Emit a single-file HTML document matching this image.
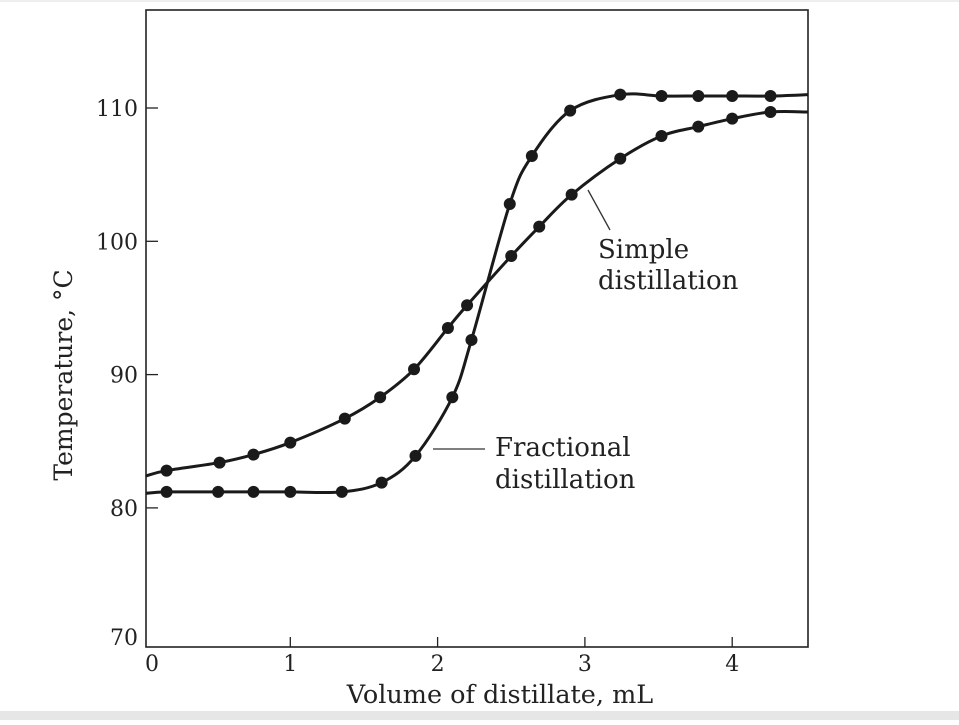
<!DOCTYPE html>
<html><head><meta charset="utf-8"><style>
body{margin:0;background:#fff;}
svg text{font-family:"DejaVu Serif","Liberation Serif",serif;fill:#222;}
</style></head><body>
<svg width="959" height="720" id="c">
<rect x="0" y="711" width="959" height="9" fill="#e6e6e6"/>
<rect x="0" y="0" width="959" height="2" fill="#eee"/>
<g id="axes"></g><g id="marks"></g>
<text x="598" y="258" font-size="26">Simple</text>
<text x="598" y="289" font-size="26">distillation</text>
<line x1="588" y1="190" x2="610" y2="230" stroke="#333" stroke-width="1.3"/>
<text x="495" y="456" font-size="26">Fractional</text>
<text x="495" y="488" font-size="26">distillation</text>
<line x1="433" y1="449" x2="485" y2="449" stroke="#333" stroke-width="1.3"/>
<text x="500" y="703" font-size="25.5" text-anchor="middle">Volume of distillate, mL</text>
<text transform="translate(72,375) rotate(-90)" font-size="25" text-anchor="middle">Temperature, °C</text>
</svg>
<script>
const xTicks=[0,1,2,3,4];
const yTicks=[70,80,90,100,110];
const fracX=[0.16,0.51,0.75,1.0,1.35,1.62,1.85,2.10,2.23,2.49,2.64,2.90,3.24,3.52,3.77,4.0,4.26];
const fracY=[81.2,81.2,81.2,81.2,81.2,81.9,83.9,88.3,92.6,102.8,106.4,109.8,111.0,110.9,110.9,110.9,110.9];
const simpX=[0.16,0.52,0.75,1.0,1.37,1.61,1.84,2.07,2.20,2.50,2.69,2.91,3.24,3.52,3.77,4.0,4.26];
const simpY=[82.8,83.4,84.0,84.9,86.7,88.3,90.4,93.5,95.2,98.9,101.1,103.5,106.2,107.9,108.6,109.2,109.7];
const L=146,R=808,T=10,B=647;
const x=v=>143+147.3*v, y=v=>108+(110-v)*13.33;
const NS='http://www.w3.org/2000/svg';
const ax=document.getElementById('axes'), mk=document.getElementById('marks');
function el(t,a,p){const e=document.createElementNS(NS,t);for(const k in a)e.setAttribute(k,a[k]);p.appendChild(e);return e;}
const fr=el('rect',{x:L,y:T,width:R-L,height:B-T,fill:'none',stroke:'#222','stroke-width':1.6},ax);


xTicks.forEach(v=>{
 if(v>0){const t=el('line',{x1:x(v),x2:x(v),y1:B,y2:B-10,stroke:'#222','stroke-width':1.3},ax);
 
 }
 const s=el('text',{x:x(v)+(v==0?9:0),y:B+24,'font-size':22,'text-anchor':'middle'},ax);s.textContent=v;
 
 
});
yTicks.forEach(v=>{
 if(v>70){const t=el('line',{x1:L,x2:L+12,y1:y(v),y2:y(v),stroke:'#222','stroke-width':1.3},ax);
 
 }
 const s=el('text',{x:L-8,y:y(v)+(v==70?4:8),'font-size':22,'text-anchor':'end'},ax);s.textContent=v;
 
 
});
function curve(X,Y,y0,y1,name){
 const P=[[L,y(y0)]].concat(X.map((v,i)=>[x(v),y(Y[i])])).concat([[R,y(y1)]]);
 let d='M'+P[0][0]+','+P[0][1];
 for(let i=0;i<P.length-1;i++){
  const p0=P[Math.max(0,i-1)],p1=P[i],p2=P[i+1],p3=P[Math.min(P.length-1,i+2)];
  d+=' C'+(p1[0]+(p2[0]-p0[0])/6)+','+(p1[1]+(p2[1]-p0[1])/6)+' '+(p2[0]-(p3[0]-p1[0])/6)+','+(p2[1]-(p3[1]-p1[1])/6)+' '+p2[0]+','+p2[1];
 }
 const pa=el('path',{d:d,fill:'none',stroke:'#1a1a1a','stroke-width':3},mk);
 
 
 X.forEach((v,i)=>{
  const c=el('circle',{cx:x(v),cy:y(Y[i]),r:6,fill:'#1a1a1a'},mk);
  
  
 });
}
curve(fracX,fracY,81.1,111.0,'fractional');
curve(simpX,simpY,82.4,109.7,'simple');
</script>
</body></html>
